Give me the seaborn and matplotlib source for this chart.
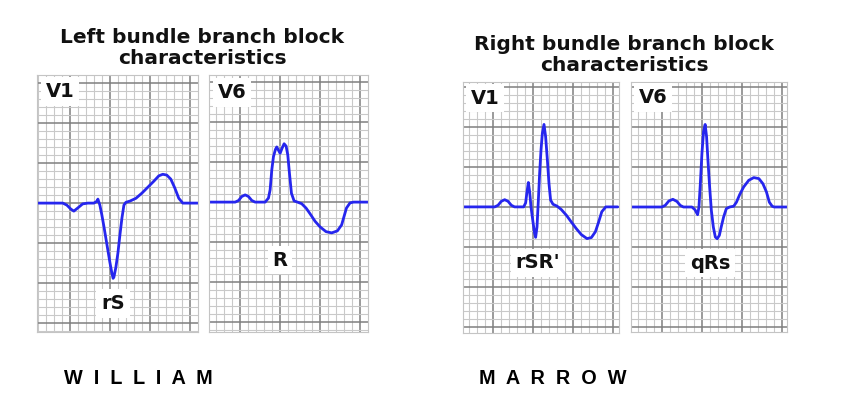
import matplotlib
matplotlib.use("Agg")
import matplotlib.pyplot as plt
import numpy as np
import seaborn as sns

sns.set_style("white")
plt.rcParams["font.family"] = ["DejaVu Sans"]

# traces: x in small boxes from the first major line, y in small boxes from baseline
lbbb_v1_x = [-4.1, -0.875, -0.375, 0.125, 0.5, 1.0, 1.6, 2.25, 3.0, 3.4, 3.5, 3.75, 4.0, 4.25, 4.5,
             4.75, 5.0, 5.25, 5.4, 5.5, 5.75, 6.0, 6.25, 6.5, 6.75, 7.0, 7.5, 8.25, 9.0, 9.75, 10.5,
             11.1, 11.6, 12.1, 12.6, 13.1, 13.6, 14.1, 16.0]
lbbb_v1_y = [0, 0, -0.25, -0.75, -1.0, -0.6, -0.1, 0, 0, 0.25, 0.5, -0.25, -1.5, -2.9, -4.4,
             -5.9, -7.4, -8.75, -9.4, -9.25, -8.0, -6.25, -4.0, -1.9, -0.25, 0.1, 0.25, 0.6, 1.25, 2.0, 2.75,
             3.4, 3.6, 3.5, 3.0, 1.9, 0.6, 0, 0]

lbbb_v6_x = [-3.84, -0.625, -0.2, 0.2, 0.625, 1.04, 1.46, 1.875, 3.125, 3.54, 3.75, 3.96, 4.17, 4.42,
             4.58, 4.79, 5.0, 5.25, 5.5, 5.75, 5.96, 6.17, 6.42, 6.75, 7.17, 7.7, 8.25, 8.75, 9.375,
             10.0, 10.75, 11.46, 12.17, 12.7, 13.0, 13.3, 13.75, 14.2, 16.0]
lbbb_v6_y = [0, 0, 0.2, 0.7, 0.9, 0.7, 0.2, 0, 0, 0.5, 1.54, 4.04, 5.7, 6.6,
             6.9, 6.5, 6.1, 6.75, 7.3, 7.0, 5.9, 3.6, 1.1, 0.15, 0, -0.2, -0.75, -1.46, -2.4,
             -3.1, -3.7, -3.85, -3.6, -2.85, -1.8, -0.75, -0.1, 0, 0]

rbbb_v1_x = [-3.83, 0.21, 0.625, 1.04, 1.46, 1.875, 2.3, 2.7, 3.83, 4.08, 4.25, 4.42, 4.58, 4.75, 5.0,
             5.2, 5.33, 5.5, 5.67, 5.83, 6.0, 6.17, 6.375, 6.58, 6.8, 7.0, 7.2, 7.5, 8.0, 8.54, 9.17,
             9.8, 10.4, 11.04, 11.75, 12.3, 12.8, 13.2, 13.6, 14.1, 15.6]
rbbb_v1_y = [0, 0, 0.2, 0.7, 0.9, 0.7, 0.2, 0, 0, 0.5, 1.9, 3.05, 1.9, 0, -1.9,
             -3.3, -3.8, -2.5, 0.85, 4.2, 7.1, 9.2, 10.3, 8.75, 5.8, 2.9, 0.85, 0.33, 0.1, -0.33, -1.04,
             -1.9, -2.7, -3.46, -3.96, -3.83, -3.1, -1.9, -0.6, 0, 0]

rbbb_v6_x = [-3.84, 0, 0.42, 0.875, 1.375, 1.875, 2.3, 2.7, 3.75, 4.125, 4.46, 4.625, 4.8, 5.0, 5.2,
             5.4, 5.58, 5.75, 5.96, 6.17, 6.42, 6.67, 6.9, 7.17, 7.4, 7.7, 8.04, 8.46, 8.96, 9.3, 9.7,
             10.2, 10.83, 11.46, 12.1, 12.6, 13.04, 13.4, 13.75, 14.0, 15.6]
rbbb_v6_y = [0, 0, 0.2, 0.75, 0.96, 0.7, 0.2, 0, 0, -0.33, -0.96, 0, 2.9, 6.7, 9.4,
             10.3, 8.75, 5.8, 2.5, -0.4, -2.5, -3.75, -3.96, -3.54, -2.5, -1.25, -0.2, 0, 0.1, 0.6, 1.54,
             2.5, 3.33, 3.67, 3.54, 2.9, 1.875, 0.6, 0.1, 0, 0]

lead_names = ["V1", "V6", "V1", "V6"]
pattern_names = ["rS", "R", "rSR'", "qRs"]
titles = ["Left bundle branch block\ncharacteristics", "Right bundle branch block\ncharacteristics"]
footer = ["W  I  L  L  I  A  M", "M  A  R  R  O  W"]

W, H = 844, 420
fig = plt.figure(figsize=(W / 100, H / 100), dpi=100)

# panel boxes in pixels: left, top, right, bottom; then data limits
panels = [
    ((37, 75, 198, 332), (-4.1, 16.0), (-16.1, 16.0), lbbb_v1_x, lbbb_v1_y, (-1.25, 13.9), (5.4, -12.5)),
    ((209, 75, 368, 332), (-3.9, 16.0), (-16.25, 15.9), lbbb_v6_x, lbbb_v6_y, (-1.0, 13.75), (5.0, -7.25)),
    ((463, 82, 619, 333), (-3.75, 15.75), (-15.75, 15.6), rbbb_v1_x, rbbb_v1_y, (-1.0, 13.6), (5.6, -7.0)),
    ((631, 82, 787, 332), (-3.84, 15.6), (-15.6, 15.6), rbbb_v6_x, rbbb_v6_y, (-1.1, 13.7), (6.0, -7.0)),
]

for i, (box, xlim, ylim, xs, ys, lead_pos, pat_pos) in enumerate(panels):
    l, t, r, b = box
    ax = fig.add_axes([l / W, 1 - b / H, (r - l) / W, (b - t) / H])
    ax.set_xlim(*xlim)
    ax.set_ylim(*ylim)
    ax.set_xticks(np.arange(np.ceil(xlim[0] / 5) * 5, xlim[1], 5))
    ax.set_xticks(np.arange(np.ceil(xlim[0]), xlim[1], 1), minor=True)
    ax.set_yticks(np.arange(np.ceil(ylim[0] / 5) * 5, ylim[1], 5))
    ax.set_yticks(np.arange(np.ceil(ylim[0]), ylim[1], 1), minor=True)
    ax.grid(which="minor", color="#c9c9c9", linewidth=0.8)
    ax.grid(which="major", color="#7f7f7f", linewidth=1.1)
    ax.tick_params(which="both", length=0, labelbottom=False, labelleft=False)
    for s in ax.spines.values():
        s.set_color("#c4c4c4")
        s.set_linewidth(0.8)
    sns.lineplot(x=xs, y=ys, sort=False, estimator=None, ax=ax, color="#2626ee", linewidth=2.0)
    box_style = dict(boxstyle="square,pad=0.25", facecolor="white", edgecolor="none")
    ax.text(*lead_pos, lead_names[i], ha="center", va="center", fontsize=14, fontweight="bold",
            color="#111111", bbox=box_style, zorder=5)
    ax.text(*pat_pos, pattern_names[i], ha="center", va="center", fontsize=14, fontweight="bold",
            color="#111111", bbox=box_style, zorder=5)

fig.text(202 / W, 1 - 48 / H, titles[0], ha="center", va="center", fontsize=14.5, fontweight="bold",
         color="#111111", linespacing=1.15)
fig.text(624 / W, 1 - 55 / H, titles[1], ha="center", va="center", fontsize=14.5, fontweight="bold",
         color="#111111", linespacing=1.15)

fig.text(64 / W, 1 - 379 / H, footer[0], ha="left", va="center", fontsize=14.3, fontweight="bold",
         family="Liberation Sans", color="black")
fig.text(479 / W, 1 - 379 / H, footer[1], ha="left", va="center", fontsize=14.3, fontweight="bold",
         family="Liberation Sans", color="black")

fig.savefig("out.png", dpi=100)
